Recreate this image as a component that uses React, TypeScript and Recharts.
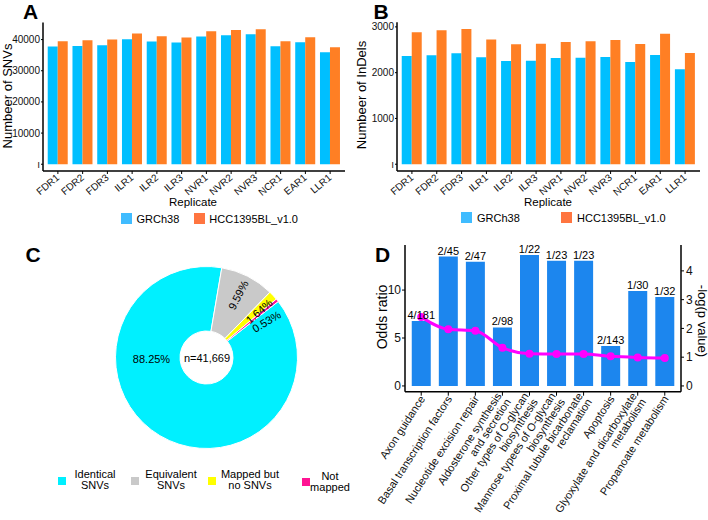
import React from "react";
import {
  BarChart,
  Bar,
  XAxis,
  YAxis,
  PieChart,
  Pie,
  Cell,
  ComposedChart,
  Line,
  LabelList,
} from "recharts";

// Panels A/B: SNVs and InDels per replicate, two references.
const replicates = ["FDR1", "FDR2", "FDR3", "ILR1", "ILR2", "ILR3", "NVR1", "NVR2", "NVR3", "NCR1", "EAR1", "LLR1"];
const snvGRCh38 = [37760, 37970, 38190, 40100, 39360, 39040, 40960, 41390, 41710, 37870, 39150, 35950];
const snvHCC = [39470, 39790, 40000, 41920, 41070, 40640, 42670, 43090, 43310, 39470, 40750, 37540];
const indelGRCh38 = [2364, 2378, 2422, 2335, 2255, 2262, 2320, 2327, 2342, 2233, 2385, 2073];
const indelHCC = [2880, 2924, 2953, 2727, 2618, 2633, 2669, 2684, 2713, 2625, 2851, 2429];
const snvTicks = [0, 10000, 20000, 30000, 40000];
const indelTicks = [0, 1000, 2000, 3000];

// Panel C: SNV mapping categories (percent of n=41,669)
const mapClasses = ["Identical SNVs", "Equivalent SNVs", "Mapped but no SNVs", "Not mapped"];
const mapShares = [88.25, 9.59, 1.64, 0.53];
const mapColors = ["#00F0FF", "#C9C9C9", "#FFFF00", "#FF1493"];

// Panel D: pathway enrichment
const pathways = [
  "Axon guidance",
  "Basal transcription factors",
  "Nucleotide excision repair",
  "Aldosterone synthesis\nand secretion",
  "Other types of O-glycan\nbiosynthesis",
  "Mannose typees of O-glycan\nbiosynthesis",
  "Proximal tubule bicarbonate\nreclamation",
  "Apoptosis",
  "Glyoxylate and dicarboxylate\nmetabolism",
  "Propanoate metabolism",
];
const oddsRatio = [6.77, 13.5, 12.95, 6.1, 13.65, 13.05, 13.05, 4.17, 9.9, 9.27];
const negLogP = [2.4, 1.97, 1.92, 1.33, 1.12, 1.11, 1.11, 1.03, 0.99, 0.97];
const hitRatio = ["4/181", "2/45", "2/47", "2/98", "1/22", "1/23", "1/23", "2/143", "1/30", "1/32"];
const oddsTicks = [0, 5, 10];
const pTicks = [0, 1, 2, 3, 4];

const FONT = '"Liberation Sans", Arial, Helvetica, sans-serif';
const BLUE = "#00BFFF";
const ORANGE = "#FF7F24";
const D_BLUE = "#1C86EE";

const snvData = replicates.map((name, i) => ({ name, grch: snvGRCh38[i], hcc: snvHCC[i] }));
const indelData = replicates.map((name, i) => ({ name, grch: indelGRCh38[i], hcc: indelHCC[i] }));
const mapData = mapClasses.map((name, i) => ({ name, value: mapShares[i] }));
const pathData = pathways.map((name, i) => ({ name, odds: oddsRatio[i], logp: negLogP[i], hits: hitRatio[i] }));

function Txt({
  x, y, children, size = 11, rotate = 0, weight = 400, align = "center",
}: {
  x: number; y: number; children: React.ReactNode; size?: number; rotate?: number; weight?: number; align?: string;
}) {
  const tx = align === "left" ? "0" : "-50%";
  return (
    <div
      style={{
        position: "absolute",
        left: x,
        top: y,
        transform: `translate(${tx},-50%) rotate(${rotate}deg)`,
        fontSize: size,
        fontWeight: weight,
        lineHeight: 1,
        whiteSpace: "pre",
        textAlign: "center",
        color: "#000",
      }}
    >
      {children}
    </div>
  );
}

function Swatch({ x, y, size, color }: { x: number; y: number; size: number; color: string }) {
  return <div style={{ position: "absolute", left: x, top: y, width: size, height: size, background: color }} />;
}

function ReplicateTick({ x, y, payload }: any) {
  return (
    <g transform={`translate(${x},${y}) rotate(-40)`}>
      <text textAnchor="end" dy="0.35em" fontSize={10} fill="#111" fontFamily={FONT}>
        {payload.value}
      </text>
    </g>
  );
}

function PathwayTick({ x, y, payload }: any) {
  const lines = String(payload.value).split("\n");
  return (
    <g transform={`translate(${x + 1},${y}) rotate(-57)`}>
      <text textAnchor="end" fontSize={11} fill="#111" fontFamily={FONT}>
        {lines.map((l, i) => (
          <tspan key={i} x={0} dy={i === 0 ? `${0.35 - (lines.length - 1) * 0.5}em` : "1em"}>
            {l}
          </tspan>
        ))}
      </text>
    </g>
  );
}

const RAD = Math.PI / 180;
// small slices sit close together; the last label is nudged clockwise as in the figure
const labelNudge = [0, 0, -1.5, -8];
function pieLabel(p: any) {
  const { cx, cy, midAngle, index, value } = p;
  const text = `${Number(value).toFixed(2)}%`;
  if (index === 0) {
    return (
      <text key={index} x={cx - 55} y={cy + 1} textAnchor="middle" dominantBaseline="central" fontSize={11} fill="#000" fontFamily={FONT}>
        {text}
      </text>
    );
  }
  const a = midAngle + labelNudge[index];
  const r = 70;
  const lx = cx + r * Math.cos(-a * RAD);
  const ly = cy + r * Math.sin(-a * RAD);
  return (
    <text
      key={index}
      x={lx}
      y={ly}
      transform={`rotate(${-a}, ${lx}, ${ly})`}
      textAnchor="middle"
      dominantBaseline="central"
      fontSize={11}
      fill="#000"
      fontFamily={FONT}
    >
      {text}
    </text>
  );
}

const tick10 = { fontSize: 10, fill: "#111", fontFamily: FONT };
const axisLine = { stroke: "#000", strokeWidth: 1.5 };

function ReplicateBars({
  data, domain, ticks, top, right,
}: {
  data: any[]; domain: [number, number]; ticks: number[]; top: number; right: number;
}) {
  return (
    <BarChart width={354} height={200} data={data} margin={{ top, right, bottom: 0, left: 0 }} barCategoryGap="9%" barGap={0}>
      <XAxis dataKey="name" height={29} padding={{ left: 2.5, right: 2.5 }} tickSize={3} tickMargin={2} tick={<ReplicateTick />} axisLine={axisLine} tickLine={{ stroke: "#000" }} interval={0} />
      <XAxis xAxisId="top" dataKey="name" orientation="top" height={0} tick={false} tickLine={false} axisLine={{ stroke: "#000", strokeWidth: 1.2 }} padding={{ left: 2.5, right: 2.5 }} />
      <YAxis width={43} domain={domain} ticks={ticks} allowDataOverflow tickSize={2} tickMargin={1} tick={tick10} axisLine={axisLine} tickLine={{ stroke: "#000" }} tickFormatter={(v: number) => (v === 0 ? "ı" : String(v))} />
      <YAxis yAxisId="right" orientation="right" width={0} tick={false} tickLine={false} axisLine={{ stroke: "#777", strokeWidth: 1 }} />
      <Bar dataKey="grch" fill={BLUE} isAnimationActive={false} />
      <Bar dataKey="hcc" fill={ORANGE} isAnimationActive={false} />
    </BarChart>
  );
}

export default function App() {
  return (
    <div style={{ position: "absolute", left: 0, top: 0, width: 708, height: 520, background: "#fff", fontFamily: FONT, overflow: "hidden" }}>
      {/* A */}
      <div style={{ position: "absolute", left: 0, top: 0 }}>
        <ReplicateBars data={snvData} domain={[-2166, 45476]} ticks={snvTicks} top={22.5} right={9} />
      </div>
      <Txt x={30.5} y={11} size={21} weight={700}>A</Txt>
      <Txt x={7} y={96} size={13} rotate={-90}>Numbeer of SNVs</Txt>
      <Txt x={193} y={203} size={11.5}>Replicate</Txt>
      <Swatch x={121} y={213} size={10.7} color="#40BCFF" />
      <Txt x={136.5} y={218.5} size={11} align="left">GRCh38</Txt>
      <Swatch x={194.3} y={213} size={10.7} color="#FF7540" />
      <Txt x={209.3} y={218.5} size={11} align="left">HCC1395BL_v1.0</Txt>

      {/* B */}
      <div style={{ position: "absolute", left: 354, top: 0 }}>
        <ReplicateBars data={indelData} domain={[-148, 3100]} ticks={indelTicks} top={22.3} right={8} />
      </div>
      <Txt x={381} y={11} size={21} weight={700}>B</Txt>
      <Txt x={361} y={95} size={13} rotate={-90}>Numbeer of InDels</Txt>
      <Txt x={548} y={203} size={11.5}>Replicate</Txt>
      <Swatch x={461} y={212} size={10.7} color="#40BCFF" />
      <Txt x={477} y={217.5} size={11} align="left">GRCh38</Txt>
      <Swatch x={561.3} y={212} size={10.7} color="#FF7540" />
      <Txt x={577} y={217.5} size={11} align="left">HCC1395BL_v1.0</Txt>

      {/* C */}
      <div style={{ position: "absolute", left: 0, top: 235 }}>
        <PieChart width={354} height={235} margin={{ top: 0, right: 0, bottom: 0, left: 0 }}>
          <Pie
            data={mapData}
            dataKey="value"
            nameKey="name"
            cx={206.5}
            cy={122.5}
            innerRadius={26.5}
            outerRadius={91}
            startAngle={38}
            endAngle={-322}
            stroke="#fff"
            strokeWidth={1}
            label={pieLabel}
            labelLine={false}
            isAnimationActive={false}
          >
            {mapData.map((d, i) => (
              <Cell key={d.name} fill={mapColors[i]} />
            ))}
          </Pie>
        </PieChart>
      </div>
      <Txt x={33} y={253.5} size={21} weight={700}>C</Txt>
      <Txt x={207} y={357.5} size={11}>n=41,669</Txt>
      <Swatch x={58} y={477} size={8} color={mapColors[0]} />
      <Txt x={95} y={480} size={11}>{"Identical\nSNVs"}</Txt>
      <Swatch x={131} y={477} size={8} color={mapColors[1]} />
      <Txt x={171} y={480} size={11}>{"Equivalent\nSNVs"}</Txt>
      <Swatch x={208} y={477} size={8} color={mapColors[2]} />
      <Txt x={250} y={480} size={11}>{"Mapped but\nno SNVs"}</Txt>
      <Swatch x={301.5} y={477.5} size={8} color={mapColors[3]} />
      <Txt x={330} y={482} size={11}>{"Not\nmapped"}</Txt>

      {/* D */}
      <div style={{ position: "absolute", left: 354, top: 235 }}>
        <ComposedChart width={354} height={285} data={pathData} margin={{ top: 10, right: 0, bottom: 0, left: 0 }} barCategoryGap="15%">
          <XAxis dataKey="name" height={128.3} padding={{ left: 2.7, right: 2.7 }} tickSize={4} tickMargin={1} tick={<PathwayTick />} axisLine={axisLine} tickLine={{ stroke: "#000" }} interval={0} />
          <XAxis xAxisId="top" dataKey="name" orientation="top" height={0} tick={false} tickLine={false} axisLine={{ stroke: "#000", strokeWidth: 1.2 }} padding={{ left: 2.7, right: 2.7 }} />
          <YAxis yAxisId="or" width={51} domain={[-0.6, 14.7]} ticks={oddsTicks} allowDataOverflow tickSize={3} tickMargin={1} tick={{ fontSize: 12, fill: "#111", fontFamily: FONT }} axisLine={axisLine} tickLine={{ stroke: "#000" }} />
          <YAxis yAxisId="p" orientation="right" width={27} domain={[-0.2, 4.9]} ticks={pTicks} allowDataOverflow tickSize={3} tickMargin={2} tick={{ fontSize: 12, fill: "#111", fontFamily: FONT }} axisLine={axisLine} tickLine={{ stroke: "#000" }} />
          <Bar yAxisId="or" dataKey="odds" fill={D_BLUE} isAnimationActive={false}>
            <LabelList dataKey="hits" position="top" offset={2} fontSize={11} fill="#000" fontFamily={FONT} />
          </Bar>
          <Line yAxisId="p" dataKey="logp" type="monotone" stroke="#FF00FF" strokeWidth={3} dot={{ r: 2.5, fill: "#FF00FF", stroke: "#FF00FF" }} isAnimationActive={false} />
        </ComposedChart>
      </div>
      <Txt x={382.5} y={253.5} size={21} weight={700}>D</Txt>
      <Txt x={382} y={317} size={14} rotate={-90}>Odds ratio</Txt>
      <Txt x={701.5} y={321} size={13} rotate={90}>-log(p value)</Txt>
    </div>
  );
}
